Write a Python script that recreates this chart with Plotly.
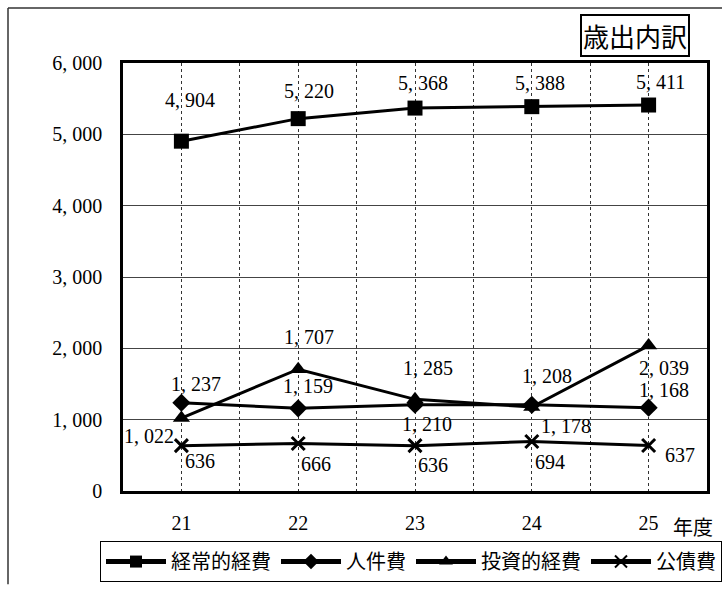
import plotly.graph_objects as go

years = ["21", "22", "23", "24", "25"]
keijo = [4904, 5220, 5368, 5388, 5411]
jinken = [1237, 1159, 1210, 1208, 1168]
toshi = [1022, 1707, 1285, 1178, 2039]
kosai = [636, 666, 636, 694, 637]
names = ["経常的経費", "人件費", "投資的経費", "公債費"]
y_ticks = [0, 1000, 2000, 3000, 4000, 5000, 6000]

# label offsets (px) per series/point: (xshift, yshift)
off_keijo = [(9, 41), (11, 28), (8, 25), (8, 24), (12, 23)]
off_jinken = [(15, 19), (10, 22), (12, -19), (15, 29), (15, 18)]
off_toshi = [(-32, -18), (11, 32), (13, 31), (34, -19), (15, -22)]
off_kosai = [(19, -15), (18, -21), (18, -19), (18, -21), (31, -9)]

SERIF = "Liberation Serif"
JP = "Noto Sans CJK JP"

def fmt(v):
    s = f"{v:,}"
    return s.replace(",", ", ")

xs = list(range(len(years)))

fig = go.Figure()
series = [
    (keijo, names[0], dict(symbol="square", size=15)),
    (jinken, names[1], dict(symbol="diamond", size=14)),
    (toshi, names[2], dict(symbol="triangle-up", size=15)),
    (kosai, names[3], dict(symbol="x-thin", size=13, line=dict(width=3, color="black"))),
]
for vals, nm, mk in series:
    m = dict(color="black")
    m.update(mk)
    fig.add_trace(go.Scatter(
        x=xs, y=vals, name=nm, mode="lines+markers",
        line=dict(color="black", width=3),
        marker=m,
    ))

annos = []
for vals, offs in [(keijo, off_keijo), (jinken, off_jinken), (toshi, off_toshi), (kosai, off_kosai)]:
    for i, v in enumerate(vals):
        annos.append(dict(
            x=xs[i], y=v, xref="x", yref="y", text=fmt(v), showarrow=False,
            xshift=offs[i][0], yshift=offs[i][1],
            font=dict(family=SERIF, size=20, color="black"),
        ))

# plot area in px: left 123, right 707, top 63, bottom 499
def px(xp):
    return (xp - 123) / 584.0

def py(yp):
    return (499 - yp) / 436.0

annos.append(dict(
    x=px(634.5), y=py(34.5), xref="paper", yref="paper", text="歳出内訳",
    showarrow=False, font=dict(family=JP, size=26, color="black"),
    bordercolor="black", borderwidth=2, borderpad=1, bgcolor="white",
    xanchor="center", yanchor="middle",
))
annos.append(dict(
    x=px(693), y=py(535), xref="paper", yref="paper", text="年度",
    showarrow=False, font=dict(family=JP, size=20, color="black"),
    xanchor="center", yanchor="middle",
))

shapes = [
    dict(type="line", xref="paper", yref="paper", x0=px(8), x1=px(722), y0=py(7), y1=py(7),
         line=dict(color="#333", width=1.5)),
    dict(type="line", xref="paper", yref="paper", x0=px(8), x1=px(8), y0=py(7), y1=py(594),
         line=dict(color="#333", width=1.5)),
]

fig.update_layout(
    width=722, height=594, autosize=False,
    margin=dict(l=123, r=15, t=63, b=95),
    paper_bgcolor="white", plot_bgcolor="white",
    showlegend=True,
    legend=dict(
        orientation="h", x=px(100), xanchor="left", y=py(550), yanchor="top",
        bordercolor="black", borderwidth=1, bgcolor="white",
        font=dict(family=JP, size=20, color="black"),
        itemwidth=60, itemsizing="constant", tracegroupgap=0, itemclick=False,
    ),
    annotations=annos,
    shapes=shapes,
    xaxis=dict(
        range=[-0.5, len(years) - 0.5],
        tickmode="array", tickvals=xs, ticktext=years,
        showgrid=True, gridcolor="#333", griddash="dot", gridwidth=1,
        minor=dict(dtick=0.5, tick0=0.5, showgrid=True, gridcolor="#333", griddash="dot", gridwidth=1),
        showline=True, mirror=True, linecolor="black", linewidth=2.5,
        ticks="", ticklabelstandoff=12,
        tickfont=dict(family=SERIF, size=20, color="black"),
        zeroline=False,
    ),
    yaxis=dict(
        range=[0, 6000],
        tickmode="array", tickvals=y_ticks, ticktext=[fmt(v) for v in y_ticks],
        showgrid=True, gridcolor="#444", gridwidth=1,
        showline=True, mirror=True, linecolor="black", linewidth=2.5,
        ticks="", ticklabelstandoff=14,
        tickfont=dict(family=SERIF, size=20, color="black"),
        zeroline=False,
    ),
)

fig.write_html("out.html")
